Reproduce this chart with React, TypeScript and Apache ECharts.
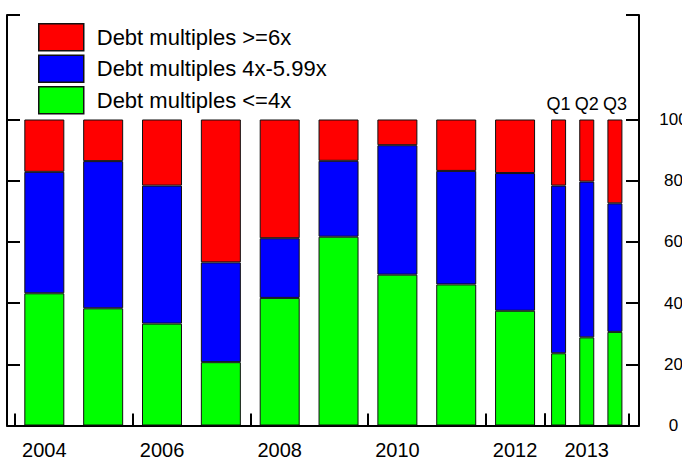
import React, { useEffect, useRef } from "react";
import * as echarts from "echarts";

const years = ["2004", "2005", "2006", "2007", "2008", "2009", "2010", "2011", "2012"];
const quarters = ["Q1", "Q2", "Q3"];
const quarterYear = "2013";

const lowYears = [43.2, 38.3, 33.3, 20.7, 41.7, 61.7, 49.3, 46.1, 37.5];
const midYears = [39.7, 48.1, 45.1, 32.6, 19.5, 24.8, 42.3, 37.1, 45.0];
const highYears = [17.1, 13.6, 21.6, 46.7, 38.8, 13.5, 8.4, 16.8, 17.5];

const lowQuarters = [23.6, 28.8, 30.6];
const midQuarters = [54.8, 50.9, 42.0];
const highQuarters = [21.6, 20.3, 27.4];

const yTicks = [0, 20, 40, 60, 80, 100];

const NAME_HIGH = "Debt multiples >=6x";
const NAME_MID = "Debt multiples 4x-5.99x";
const NAME_LOW = "Debt multiples <=4x";

export default function App() {
  const ref = useRef<HTMLDivElement>(null);
  useEffect(() => {
    if (!ref.current) return;
    const chart = echarts.init(ref.current, null, { renderer: "svg" });
    const font = "Liberation Sans, Arial, Helvetica, sans-serif";
    const top = 15;
    const bottom = 33.5;
    const yMax = (425.5 - top) / 3.06;
    const border = { borderColor: "#111", borderWidth: 1 };
    const hiddenY = (grid: number) => ({
      type: "value",
      gridIndex: grid,
      min: 0,
      max: yMax,
      show: false,
      splitLine: { show: false },
    });
    const bar = (name: string, data: number[], color: string, xi: number, yi: number, stack: string, width: number, extra: any = {}) => ({
      type: "bar",
      name,
      data,
      xAxisIndex: xi,
      yAxisIndex: yi,
      stack,
      barWidth: width,
      itemStyle: { color, ...border },
      ...extra,
    });
    chart.setOption({
      animation: false,
      backgroundColor: "#fff",
      textStyle: { fontFamily: font },
      legend: {
        orient: "vertical",
        left: 38,
        top: 23,
        padding: 0,
        itemWidth: 45,
        itemHeight: 27,
        itemGap: 3,
        icon: "rect",
        data: [NAME_HIGH, NAME_MID, NAME_LOW],
        itemStyle: { borderColor: "#111", borderWidth: 1.5 },
        textStyle: { fontSize: 22, color: "#000", fontFamily: font, padding: [0, 0, 0, 8] },
      },
      grid: [
        { left: 7, right: 43, top, bottom, outerBoundsMode: "none" },
        { left: 14.9, right: 137.5, top, bottom, outerBoundsMode: "none" },
        { left: 544.5, right: 53, top, bottom, outerBoundsMode: "none" },
      ],
      xAxis: [
        {
          type: "value",
          gridIndex: 0,
          min: 0,
          max: 1,
          axisLine: { show: true, lineStyle: { color: "#000", width: 2 } },
          axisTick: { show: false },
          axisLabel: { show: false },
          splitLine: { show: false },
        },
        {
          type: "category",
          gridIndex: 1,
          data: years,
          axisLine: { show: false },
          axisTick: { show: true, inside: true, length: 12, lineStyle: { color: "#000", width: 2 } },
          axisLabel: { interval: 1, fontSize: 20, color: "#000", margin: 14, fontFamily: font },
        },
        {
          type: "category",
          gridIndex: 2,
          data: quarters,
          axisLine: { show: false },
          axisTick: {
            show: true,
            inside: true,
            length: 12,
            interval: (idx: number) => idx === 0,
            lineStyle: { color: "#000", width: 2 },
          },
          axisLabel: { show: false },
          name: quarterYear,
          nameLocation: "middle",
          nameGap: 14,
          nameTextStyle: { fontSize: 20, color: "#000", fontFamily: font, verticalAlign: "top" },
        },
      ],
      yAxis: [
        {
          type: "value",
          gridIndex: 0,
          position: "left",
          min: 0,
          max: yMax,
          axisLine: { show: true, lineStyle: { color: "#000", width: 2 } },
          axisTick: { show: true, inside: true, length: 13, customValues: [...yTicks, yMax], lineStyle: { color: "#000", width: 2 } },
          axisLabel: { show: false },
          splitLine: { show: false },
        },
        {
          type: "value",
          gridIndex: 0,
          position: "right",
          min: 0,
          max: yMax,
          axisLine: { show: true, lineStyle: { color: "#000", width: 2 } },
          axisTick: { show: true, inside: true, length: 13, customValues: [...yTicks, yMax], lineStyle: { color: "#000", width: 2 } },
          axisLabel: { show: true, customValues: yTicks, fontSize: 17, color: "#000", margin: 34.5, align: "center", fontFamily: font },
          splitLine: { show: false },
        },
        hiddenY(1),
        hiddenY(2),
      ],
      series: [
        bar(NAME_LOW, lowYears, "#00ff00", 1, 2, "years", 40),
        bar(NAME_MID, midYears, "#0000ff", 1, 2, "years", 40),
        bar(NAME_HIGH, highYears, "#ff0000", 1, 2, "years", 40),
        bar(NAME_LOW, lowQuarters, "#00ff00", 2, 3, "quarters", 15),
        bar(NAME_MID, midQuarters, "#0000ff", 2, 3, "quarters", 15),
        bar(NAME_HIGH, highQuarters, "#ff0000", 2, 3, "quarters", 15, {
          label: { show: true, position: "top", distance: 7, formatter: "{b}", fontSize: 18, color: "#000", fontFamily: font },
        }),
      ],
    });
    return () => chart.dispose();
  }, []);
  return <div ref={ref} style={{ width: 682, height: 459, position: "absolute", left: 0, top: 0 }} />;
}
